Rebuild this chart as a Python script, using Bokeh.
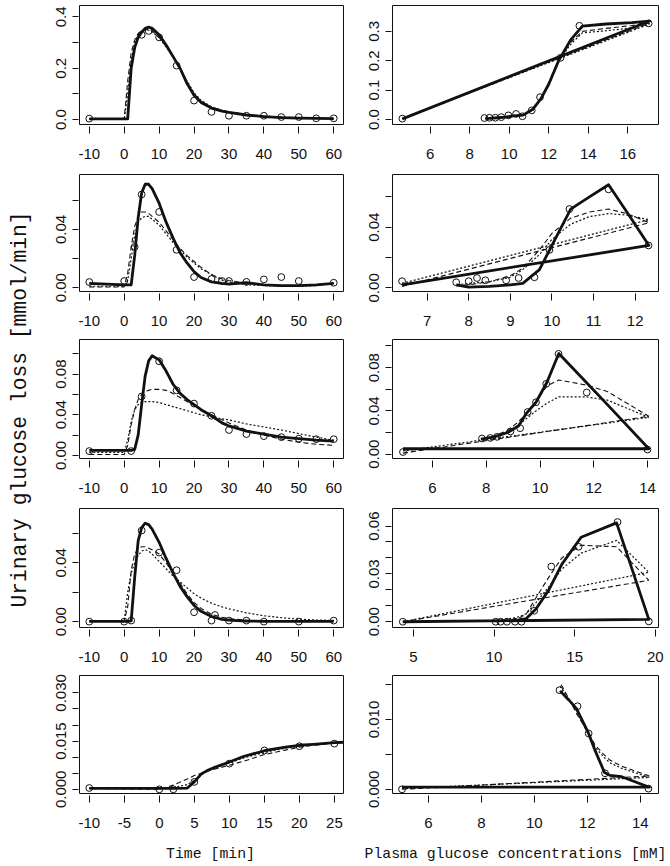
import math
from bokeh.plotting import figure
from bokeh.layouts import row, column
from bokeh.models import Range1d, FixedTicker, CustomJSTickFormatter
from bokeh.core.properties import value
from bokeh.embed import file_html
from bokeh.resources import INLINE

# ---------------- data ----------------
Y_LABEL = "Urinary glucose loss [mmol/min]"
X_LABEL_LEFT = "Time [min]"
X_LABEL_RIGHT = "Plasma glucose concentrations [mM]"

# time grid of the model curves (rows 1-4, left)
T_FIT = [-10, 0, 1, 2, 3, 4, 5, 6, 7, 8, 10, 12, 14, 16, 18, 20, 22, 25, 28, 30, 35, 40, 45, 50, 55, 60]

# row 1, left (time course)
A_T_OBS = [-10, 5, 7, 10, 15, 20, 25, 30, 35, 40, 45, 50, 55, 60]
A_U_OBS = [0.004, 0.33, 0.345, 0.32, 0.21, 0.074, 0.03, 0.015, 0.015, 0.015, 0.01, 0.01, 0.005, 0.005]
A_SOLID = [0.003, 0.003, 0.003, 0.2, 0.28, 0.32, 0.34, 0.355, 0.36, 0.355, 0.33, 0.29, 0.245, 0.2, 0.14, 0.095, 0.067, 0.045, 0.033, 0.028, 0.018, 0.012, 0.008, 0.006, 0.005, 0.004]
A_DASH = [0.002, 0.002, 0.15, 0.26, 0.31, 0.335, 0.345, 0.35, 0.35, 0.345, 0.32, 0.285, 0.245, 0.2, 0.145, 0.1, 0.072, 0.048, 0.035, 0.029, 0.019, 0.013, 0.009, 0.007, 0.005, 0.004]
A_DOT = [0.002, 0.002, 0.1, 0.23, 0.3, 0.33, 0.345, 0.35, 0.348, 0.342, 0.318, 0.283, 0.243, 0.2, 0.15, 0.105, 0.075, 0.05, 0.036, 0.03, 0.02, 0.014, 0.01, 0.007, 0.005, 0.004]

# row 2, left
B_T_OBS = [-10, 0, 3, 5, 10, 15, 20, 25, 28, 30, 35, 40, 45, 50, 60]
B_U_OBS = [0.0039, 0.0046, 0.028, 0.064, 0.052, 0.026, 0.0073, 0.006, 0.0046, 0.0046, 0.004, 0.0057, 0.0073, 0.0046, 0.0034]
B_SOLID = [0.003, 0.002, 0.002, 0.002, 0.022, 0.048, 0.065, 0.071, 0.071, 0.068, 0.058, 0.045, 0.034, 0.024, 0.017, 0.011, 0.007, 0.004, 0.003, 0.0025, 0.0035, 0.002, 0.0015, 0.0015, 0.002, 0.003]
B_DASH = [0.0005, 0.0005, 0.01, 0.028, 0.042, 0.049, 0.052, 0.052, 0.051, 0.049, 0.045, 0.039, 0.033, 0.027, 0.022, 0.018, 0.014, 0.009, 0.006, 0.005, 0.003, 0.002, 0.0015, 0.0015, 0.002, 0.003]
B_DOT = [0.001, 0.001, 0.005, 0.02, 0.036, 0.045, 0.048, 0.049, 0.049, 0.047, 0.043, 0.037, 0.031, 0.026, 0.021, 0.017, 0.013, 0.009, 0.005, 0.004, 0.002, 0.0015, 0.001, 0.001, 0.0015, 0.003]

# row 3, left
C_T_OBS = [-10, 2, 5, 10, 15, 20, 25, 30, 35, 40, 45, 50, 55, 60]
C_U_OBS = [0.0043, 0.0043, 0.058, 0.0926, 0.064, 0.051, 0.039, 0.025, 0.021, 0.019, 0.018, 0.0165, 0.016, 0.016]
C_SOLID = [0.005, 0.005, 0.005, 0.005, 0.006, 0.02, 0.05, 0.078, 0.093, 0.098, 0.094, 0.083, 0.07, 0.061, 0.055, 0.05, 0.045, 0.039, 0.032, 0.029, 0.024, 0.021, 0.018, 0.0165, 0.015, 0.014]
C_DASH = [0.001, 0.001, 0.01, 0.03, 0.045, 0.055, 0.06, 0.063, 0.064, 0.065, 0.065, 0.064, 0.061, 0.057, 0.053, 0.049, 0.045, 0.04, 0.035, 0.032, 0.025, 0.02, 0.016, 0.013, 0.011, 0.01]
C_DOT = [0.003, 0.003, 0.015, 0.033, 0.045, 0.05, 0.052, 0.053, 0.053, 0.053, 0.052, 0.05, 0.048, 0.046, 0.044, 0.042, 0.04, 0.038, 0.036, 0.035, 0.031, 0.028, 0.025, 0.0215, 0.018, 0.015]

# row 4, left
D_T_OBS = [-10, 0, 2, 5, 10, 15, 20, 25, 26, 30, 35, 40, 50, 60]
D_U_OBS = [0.0, 0.0, 0.0007, 0.062, 0.047, 0.035, 0.0064, 0.0007, 0.0045, 0.0007, 0.0007, 0.0, 0.0, 0.0007]
D_SOLID = [0.0002, 0.0002, 0.0002, 0.0005, 0.03, 0.055, 0.064, 0.067, 0.066, 0.063, 0.054, 0.043, 0.033, 0.024, 0.017, 0.011, 0.007, 0.0035, 0.0015, 0.001, 0.0004, 0.0002, 0.0002, 0.0002, 0.0002, 0.0002]
D_DASH = [0.0005, 0.0005, 0.01, 0.035, 0.046, 0.05, 0.051, 0.051, 0.05, 0.049, 0.046, 0.04, 0.033, 0.026, 0.019, 0.013, 0.009, 0.005, 0.003, 0.002, 0.001, 0.0005, 0.0005, 0.0005, 0.0005, 0.0005]
D_DOT = [0.0005, 0.0005, 0.02, 0.033, 0.04, 0.045, 0.048, 0.049, 0.048, 0.046, 0.041, 0.036, 0.031, 0.027, 0.023, 0.019, 0.016, 0.0125, 0.01, 0.0087, 0.006, 0.004, 0.0027, 0.0017, 0.0011, 0.0008]

# row 5, left
T5_FIT = [-10, 0, 2, 4, 5, 6, 7, 8, 10, 12, 15, 18, 20, 22, 25, 27]
E_T_OBS = [-10, 0, 2, 5, 10, 15, 20, 25]
E_U_OBS = [0.0004, 0.0, 0.0, 0.0023, 0.008, 0.0121, 0.0134, 0.0142]
E_SOLID = [0.0003, 0.0003, 0.0003, 0.0004, 0.0023, 0.0048, 0.006, 0.0069, 0.0085, 0.0102, 0.012, 0.0131, 0.0137, 0.014, 0.0145, 0.0147]
E_DASH = [0.0003, 0.0, 0.0013, 0.0032, 0.0043, 0.005, 0.0057, 0.0063, 0.0075, 0.0087, 0.0108, 0.0122, 0.0131, 0.0137, 0.0144, 0.0147]
E_DOT = [0.0003, 0.0002, 0.0005, 0.0015, 0.0028, 0.0045, 0.0058, 0.0067, 0.0082, 0.0097, 0.0115, 0.0128, 0.0134, 0.0139, 0.0145, 0.0148]

# row 1, right (loss vs plasma glucose)
F_G_OBS = [4.6, 17.05, 13.55, 12.6, 11.56, 11.14, 10.67, 10.35, 9.96, 9.6, 9.3, 9.0, 8.75]
F_U_OBS = [0.003, 0.327, 0.319, 0.21, 0.076, 0.031, 0.011, 0.019, 0.014, 0.008, 0.006, 0.006, 0.005]
F_G_FIT = [4.6, 17.1, 16.2, 14.9, 13.7, 13.1, 12.5, 12.0, 11.6, 11.2, 10.7, 10.2, 9.8, 9.4, 9.0, 8.8]
F_SOLID = [0.002, 0.335, 0.33, 0.325, 0.318, 0.27, 0.2, 0.12, 0.07, 0.035, 0.015, 0.012, 0.008, 0.006, 0.004, 0.003]
F_DASH = [0.003, 0.328, 0.32, 0.31, 0.3, 0.262, 0.205, 0.125, 0.072, 0.034, 0.014, 0.011, 0.008, 0.006, 0.004, 0.003]
F_DOT = [0.003, 0.325, 0.312, 0.302, 0.295, 0.255, 0.2, 0.125, 0.07, 0.033, 0.014, 0.011, 0.007, 0.006, 0.004, 0.003]

# row 2, right
G_G_OBS = [6.4, 12.32, 11.36, 10.42, 9.94, 9.58, 9.2, 8.9, 8.4, 8.2, 8.0, 7.7]
G_U_OBS = [0.0044, 0.028, 0.065, 0.052, 0.025, 0.007, 0.0065, 0.005, 0.005, 0.0065, 0.0044, 0.0037]
G_G_FIT = [6.4, 12.33, 11.8, 11.36, 10.9, 10.45, 10.0, 9.7, 9.3, 9.0, 8.5, 8.0, 7.7]
G_SOLID = [0.002, 0.028, 0.05, 0.068, 0.06, 0.052, 0.028, 0.012, 0.003, 0.002, 0.001, 0.0005, 0.002]
G_DASH = [0.001, 0.043, 0.049, 0.052, 0.05, 0.046, 0.036, 0.025, 0.013, 0.008, 0.004, 0.002, 0.0015]
G_DOT = [0.003, 0.045, 0.048, 0.049, 0.047, 0.042, 0.032, 0.022, 0.012, 0.007, 0.004, 0.003, 0.002]

# row 3, right
H_G_OBS = [4.9, 14.0, 11.74, 10.69, 10.23, 9.85, 9.54, 9.26, 8.9, 8.4, 8.15, 7.84]
H_U_OBS = [0.002, 0.0043, 0.057, 0.0927, 0.065, 0.048, 0.039, 0.024, 0.021, 0.016, 0.015, 0.0145]
H_G_FIT = [4.9, 14.05, 12.5, 11.7, 10.7, 10.25, 9.85, 9.5, 9.2, 8.8, 8.3, 7.8]
H_SOLID = [0.005, 0.005, 0.046, 0.067, 0.093, 0.066, 0.048, 0.038, 0.026, 0.02, 0.016, 0.014]
H_DASH = [0.001, 0.035, 0.058, 0.064, 0.0686, 0.063, 0.048, 0.038, 0.03, 0.022, 0.017, 0.014]
H_DOT = [0.003, 0.034, 0.05, 0.053, 0.053, 0.047, 0.04, 0.033, 0.027, 0.021, 0.016, 0.013]

# row 4, right
I_G_OBS = [4.34, 19.6, 17.66, 15.24, 13.55, 12.49, 11.7, 11.3, 10.8, 10.4, 10.1]
I_U_OBS = [0.0, 0.0002, 0.0625, 0.047, 0.0346, 0.0069, 0.0, 0.0, 0.0, 0.0, 0.0]
I_G_FIT = [4.34, 19.6, 17.6, 15.4, 14.2, 13.4, 12.6, 12.0, 11.5, 11.0, 10.0]
I_SOLID = [0.0, 0.0015, 0.062, 0.053, 0.036, 0.02, 0.008, 0.002, 0.001, 0.0007, 0.0005]
I_DASH = [0.0, 0.026, 0.047, 0.048, 0.04, 0.028, 0.015, 0.005, 0.002, 0.001, 0.0]
I_DOT = [0.0, 0.031, 0.051, 0.043, 0.033, 0.022, 0.012, 0.005, 0.003, 0.002, 0.001]

# row 5, right
J_G_OBS = [5.0, 14.31, 12.67, 12.05, 11.63, 10.95]
J_U_OBS = [0.0, 0.0001, 0.0023, 0.008, 0.0119, 0.0142]
J_G_FIT = [5.0, 14.35, 13.3, 12.85, 12.65, 12.3, 12.05, 11.6, 11.3, 10.97]
J_SOLID = [0.0003, 0.0003, 0.0018, 0.002, 0.0024, 0.0055, 0.008, 0.0115, 0.0128, 0.0141]
J_DASH = [0.0, 0.0019, 0.0033, 0.0042, 0.0049, 0.0063, 0.008, 0.0108, 0.013, 0.0153]
J_DOT = [0.0001, 0.0017, 0.003, 0.0038, 0.0045, 0.006, 0.0078, 0.0112, 0.0129, 0.0148]

# ticks
XT_TIME = [-10, 0, 10, 20, 30, 40, 50, 60]
XL_TIME = ["-10", "0", "10", "20", "30", "40", "50", "60"]
XT_TIME5 = [-10, -5, 0, 5, 10, 15, 20, 25]
XL_TIME5 = ["-10", "-5", "0", "5", "10", "15", "20", "25"]
XT_F = [6, 8, 10, 12, 14, 16]
XT_G = [7, 8, 9, 10, 11, 12]
XT_H = [6, 8, 10, 12, 14]
XT_I = [5, 10, 15, 20]
XT_J = [6, 8, 10, 12, 14]

YT_A = [0, 0.1, 0.2, 0.3, 0.4]
YL_A = ["0.0", "", "0.2", "", "0.4"]
YT_F = [0, 0.1, 0.2, 0.3]
YL_F = ["0.0", "0.1", "0.2", "0.3"]
YT_B = [0, 0.02, 0.04, 0.06]
YL_B = ["0.00", "", "0.04", ""]
YT_C = [0, 0.02, 0.04, 0.06, 0.08, 0.10]
YL_C = ["0.00", "", "0.04", "", "0.08", ""]
YT_I = [0, 0.01, 0.02, 0.03, 0.04, 0.05, 0.06]
YL_I = ["0.00", "", "", "0.03", "", "", "0.06"]
YT_E = [0, 0.005, 0.01, 0.015, 0.02, 0.025, 0.03]
YL_E = ["0.000", "", "", "0.015", "", "", "0.030"]
YT_J = [0, 0.005, 0.01, 0.015]
YL_J = ["0.000", "", "0.010", ""]

# ---------------- style ----------------
INK = "#111111"
FONT_TICK = "Liberation Sans"
FONT_LAB = "Liberation Mono"

TICK_CODE = """
for (let i = 0; i < tv.length; i++) {
  if (Math.abs(tv[i] - tick) < 1e-9) { return tl[i]; }
}
return "";
"""


def panel(width, height, bl, br, bt, bb, xr, yr, xt, xl, yt, yl):
    p = figure(width=width, height=height, x_range=Range1d(*xr), y_range=Range1d(*yr),
               output_backend="svg", toolbar_location=None, title=None,
               min_border_left=bl, min_border_right=br, min_border_top=bt,
               min_border_bottom=bb)
    p.xgrid.visible = False
    p.ygrid.visible = False
    p.outline_line_color = INK
    p.outline_line_width = 1
    p.outline_line_alpha = 1
    p.background_fill_color = "white"
    p.border_fill_color = "white"
    for ax, ticks, labels in ((p.xaxis[0], xt, xl), (p.yaxis[0], yt, yl)):
        ax.ticker = FixedTicker(ticks=ticks, minor_ticks=[])
        ax.formatter = CustomJSTickFormatter(args=dict(tv=ticks, tl=labels), code=TICK_CODE)
        ax.axis_line_color = None
        ax.major_tick_line_color = INK
        ax.major_tick_line_width = 1
        ax.minor_tick_line_color = None
        ax.major_label_text_font = FONT_TICK
        ax.major_label_text_font_size = "15px"
        ax.major_label_text_color = INK
    xa = p.xaxis[0]
    xa.major_tick_in = -2
    xa.major_tick_out = 9
    xa.major_label_standoff = 15
    ya = p.yaxis[0]
    ya.major_tick_in = -1
    ya.major_tick_out = 7
    ya.major_label_standoff = 6
    ya.major_label_orientation = "vertical"
    return p


def draw_fits(p, x, solid, dash, dot):
    p.line(x, dot, line_width=1.2, line_color=INK, line_dash="2 2")
    p.line(x, dash, line_width=1.1, line_color=INK, line_dash="5 3")
    p.line(x, solid, line_width=2.8, line_color=INK, line_join="round")


def draw_obs(p, x, y):
    p.scatter(x, y, marker="circle", size=6.8, fill_color=None, line_color=INK, line_width=1)


# layout geometry (page origin at 0,0)
LW, LBL, LBR = 307, 41, 2
RW, RBL, RBR = 321, 47, 8
ROWS = [(169, 5, 45), (165, 5, 43), (169, 5, 45), (167, 5, 43), (165, 5, 42)]

X_TIME = (-12.8, 62.8)
XL_F = [str(v) for v in XT_F]
XL_G = [str(v) for v in XT_G]
XL_H = [str(v) for v in XT_H]
XL_I = [str(v) for v in XT_I]
XL_J = [str(v) for v in XT_J]

h, bt, bb = ROWS[0]
p11 = panel(LW, h, LBL, LBR, bt, bb, X_TIME, (-0.019, 0.444), XT_TIME, XL_TIME, YT_A, YL_A)
draw_fits(p11, T_FIT, A_SOLID, A_DASH, A_DOT)
draw_obs(p11, A_T_OBS, A_U_OBS)
p12 = panel(RW, h, RBL, RBR, bt, bb, (4.1, 17.55), (-0.017, 0.388), XT_F, XL_F, YT_F, YL_F)
draw_fits(p12, F_G_FIT, F_SOLID, F_DASH, F_DOT)
draw_obs(p12, F_G_OBS, F_U_OBS)

h, bt, bb = ROWS[1]
p21 = panel(LW, h, LBL, LBR, bt, bb, X_TIME, (-0.0026, 0.0777), XT_TIME, XL_TIME, YT_B, YL_B)
draw_fits(p21, T_FIT, B_SOLID, B_DASH, B_DOT)
draw_obs(p21, B_T_OBS, B_U_OBS)
p22 = panel(RW, h, RBL, RBR, bt, bb, (6.17, 12.56), (-0.0024, 0.0748), XT_G, XL_G, YT_B, YL_B)
draw_fits(p22, G_G_FIT, G_SOLID, G_DASH, G_DOT)
draw_obs(p22, G_G_OBS, G_U_OBS)

h, bt, bb = ROWS[2]
p31 = panel(LW, h, LBL, LBR, bt, bb, X_TIME, (-0.003, 0.114), XT_TIME, XL_TIME, YT_C, YL_C)
draw_fits(p31, T_FIT, C_SOLID, C_DASH, C_DOT)
draw_obs(p31, C_T_OBS, C_U_OBS)
p32 = panel(RW, h, RBL, RBR, bt, bb, (4.51, 14.41), (-0.004, 0.106), XT_H, XL_H, YT_C, YL_C)
draw_fits(p32, H_G_FIT, H_SOLID, H_DASH, H_DOT)
draw_obs(p32, H_G_OBS, H_U_OBS)

h, bt, bb = ROWS[3]
p41 = panel(LW, h, LBL, LBR, bt, bb, X_TIME, (-0.004, 0.077), XT_TIME, XL_TIME, YT_B, YL_B)
draw_fits(p41, T_FIT, D_SOLID, D_DASH, D_DOT)
draw_obs(p41, D_T_OBS, D_U_OBS)
p42 = panel(RW, h, RBL, RBR, bt, bb, (3.70, 20.2), (-0.0036, 0.071), XT_I, XL_I, YT_I, YL_I)
draw_fits(p42, I_G_FIT, I_SOLID, I_DASH, I_DOT)
draw_obs(p42, I_G_OBS, I_U_OBS)

h, bt, bb = ROWS[4]
p51 = panel(LW, h, LBL, LBR, bt, bb, (-11.4, 26.3), (-0.0013, 0.0354), XT_TIME5, XL_TIME5, YT_E, YL_E)
draw_fits(p51, T5_FIT, E_SOLID, E_DASH, E_DOT)
draw_obs(p51, E_T_OBS, E_U_OBS)
p52 = panel(RW, h, RBL, RBR, bt, bb, (4.64, 14.69), (-0.0006, 0.0163), XT_J, XL_J, YT_J, YL_J)
draw_fits(p52, J_G_FIT, J_SOLID, J_DASH, J_DOT)
draw_obs(p52, J_G_OBS, J_U_OBS)


def blank(width, height):
    f = figure(width=width, height=height, x_range=Range1d(0, width), y_range=Range1d(0, height),
               output_backend="svg", toolbar_location=None, title=None,
               x_axis_type=None, y_axis_type=None, min_border=0)
    f.xgrid.visible = False
    f.ygrid.visible = False
    f.outline_line_color = None
    f.background_fill_color = "white"
    f.border_fill_color = "white"
    return f


XLAB_H = 29
TOTAL_H = sum(r[0] for r in ROWS) + XLAB_H

ylab = blank(38, TOTAL_H)
ylab.text(x=[19], y=[TOTAL_H - 409], text=[Y_LABEL], angle=math.pi / 2, text_align="center",
          text_baseline="middle", text_font=value(FONT_LAB), text_font_size="21.3px",
          text_color=INK)

xlab = blank(LW + RW, XLAB_H)
xlab.text(x=[172, 477], y=[11, 11], text=[X_LABEL_LEFT, X_LABEL_RIGHT], text_align="center",
          text_baseline="middle", text_font=value(FONT_LAB), text_font_size="14.8px",
          text_color=INK)

grid = column(row(p11, p12), row(p21, p22), row(p31, p32), row(p41, p42), row(p51, p52), xlab)
layout = row(ylab, grid)

open("out.html", "w").write(file_html(layout, INLINE))
